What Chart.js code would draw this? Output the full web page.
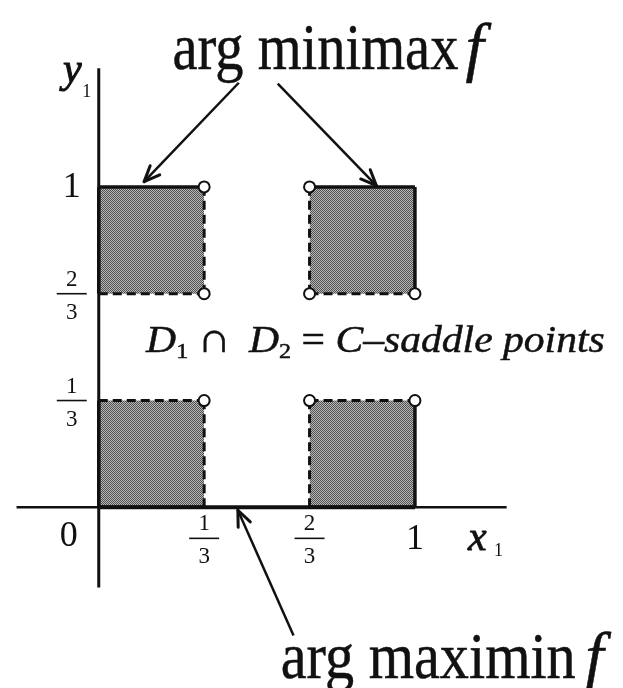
<!DOCTYPE html>
<html>
<head>
<meta charset="utf-8">
<title>arg minimax f / arg maximin f</title>
<script src="https://cdn.jsdelivr.net/npm/chart.js"></script>
<style>
  html, body { margin: 0; padding: 0; background: #fff; }
  #wrap { width: 623px; height: 688px; }
</style>
</head>
<body>
<div id="wrap"><canvas id="saddle" width="623" height="688"></canvas></div>
<script>
// visible window of the (x1, y1) plane
var xRange = [-0.2886, 1.6343];
var yRange = [-0.5403, 1.5598];

// tick marks on both axes
var tickVals = [1/3, 2/3, 1];
var tickText = ['1/3', '2/3', '1'];

// the four squares of D1 ∩ D2
var boxX0 = [0, 2/3, 0, 2/3];
var boxX1 = [1/3, 1, 1/3, 1];
var boxY0 = [2/3, 2/3, 0, 0];
var boxY1 = [1, 1, 1/3, 1/3];
// closed sides per square: top, right, bottom, left
var boxClosed = [[1, 0, 0, 1], [1, 1, 0, 0], [0, 0, 1, 1], [0, 1, 1, 0]];

// excluded corner points
var openX = [1/3, 1/3, 2/3, 2/3, 1, 1/3, 2/3, 1];
var openY = [1, 2/3, 1, 2/3, 2/3, 1/3, 1/3, 1/3];

// axis extents and the maximin segment on y1 = 0
var xAxisX = [-0.26, 1.29];
var yAxisY = [-0.25, 1.37];
var maximinX = [0, 1];

// pointer arrows: tail -> head
var arrowFromX = [0.443, 0.566, 0.616];
var arrowFromY = [1.325, 1.322, -0.400];
var arrowToX = [0.1435, 0.878, 0.440];
var arrowToY = [1.0165, 1.004, -0.009];

var INK = '#111';

function halftone() {
  var c = document.createElement('canvas');
  c.width = 2; c.height = 2;
  var g = c.getContext('2d');
  g.fillStyle = '#b8b8b8'; g.fillRect(0, 0, 2, 2);
  g.fillStyle = '#505050'; g.fillRect(0, 0, 1, 1); g.fillRect(1, 1, 1, 1);
  return g.createPattern(c, 'repeat');
}

function seg(xa, ya, xb, yb) {
  return [{ x: xa, y: ya }, { x: xb, y: yb }];
}

var shade = halftone();
var datasets = [];

// open circles on top of everything
datasets.push({
  data: openX.map(function (x, i) { return { x: x, y: openY[i] }; }),
  showLine: false, pointRadius: 5.5, pointBorderWidth: 2,
  pointBackgroundColor: '#fff', pointBorderColor: INK, order: 0
});

// axes
datasets.push({ data: seg(xAxisX[0], 0, xAxisX[1], 0), borderColor: INK, borderWidth: 2.5, pointRadius: 0, order: 2 });
datasets.push({ data: seg(maximinX[0], 0, maximinX[1], 0), borderColor: INK, borderWidth: 4, pointRadius: 0, order: 2 });
datasets.push({ data: seg(0, yAxisY[0], 0, yAxisY[1]), borderColor: INK, borderWidth: 3, pointRadius: 0, order: 2 });

// squares: shaded fill plus solid/dashed sides
boxX0.forEach(function (x0, i) {
  var x1 = boxX1[i], y0 = boxY0[i], y1 = boxY1[i];
  var sides = [seg(x0, y1, x1, y1), seg(x1, y0, x1, y1), seg(x0, y0, x1, y0), seg(x0, y0, x0, y1)];
  sides.forEach(function (s, k) {
    var closed = boxClosed[i][k];
    datasets.push({
      data: s, borderColor: INK, borderWidth: closed ? 3.5 : 3,
      borderDash: closed ? [] : [9, 5], pointRadius: 0, order: 1
    });
  });
  datasets.push({
    data: seg(x0, y1, x1, y1), borderWidth: 0, pointRadius: 0,
    fill: { value: y0 }, backgroundColor: shade, order: 3
  });
});

// arrow shafts
arrowFromX.forEach(function (x, i) {
  datasets.push({ data: seg(x, arrowFromY[i], arrowToX[i], arrowToY[i]), borderColor: INK, borderWidth: 2.5, pointRadius: 0, order: 1 });
});

// text helper: left aligned, optionally squeezed to a given pixel width,
// with a thin outline so the serif strokes read a little heavier
function put(ctx, str, px, py, font, w, heavy) {
  ctx.save();
  ctx.font = font;
  var m = ctx.measureText(str).width;
  ctx.translate(px, py);
  if (w) ctx.scale(w / m, 1);
  ctx.fillText(str, 0, 0);
  if (heavy) { ctx.lineWidth = heavy; ctx.strokeText(str, 0, 0); }
  ctx.restore();
}

function fraction(ctx, str, cx, barY) {
  var p = str.split('/');
  ctx.save();
  ctx.font = '23px "Liberation Serif"';
  ctx.textAlign = 'center';
  ctx.fillText(p[0], cx, barY - 8);
  ctx.fillText(p[1], cx, barY + 25);
  ctx.lineWidth = 1.6;
  ctx.beginPath();
  ctx.moveTo(cx - 15, barY);
  ctx.lineTo(cx + 15, barY);
  ctx.stroke();
  ctx.restore();
}

var figureText = {
  id: 'figureText',
  afterDatasetsDraw: function (chart) {
    var ctx = chart.ctx, sx = chart.scales.x, sy = chart.scales.y;
    var X = function (v) { return sx.getPixelForValue(v); };
    var Y = function (v) { return sy.getPixelForValue(v); };
    ctx.save();
    ctx.fillStyle = INK;
    ctx.strokeStyle = INK;

    // arrow heads
    ctx.lineWidth = 3;
    ctx.lineCap = 'round';
    arrowToX.forEach(function (x, i) {
      var hx = X(x), hy = Y(arrowToY[i]);
      var a = Math.atan2(hy - Y(arrowFromY[i]), hx - X(arrowFromX[i]));
      [0.4, -0.4].forEach(function (d) {
        ctx.beginPath();
        ctx.moveTo(hx, hy);
        ctx.lineTo(hx - 17 * Math.cos(a + d), hy - 17 * Math.sin(a + d));
        ctx.stroke();
      });
    });
    ctx.lineCap = 'butt';

    // tick labels
    var x0 = X(0), y0 = Y(0);
    ctx.textAlign = 'center';
    ctx.font = '36px "Liberation Serif"';
    ctx.fillText('0', x0 - 30, y0 + 39);
    tickVals.forEach(function (v, i) {
      var t = tickText[i];
      if (t.indexOf('/') > 0) {
        fraction(ctx, t, x0 - 27, Y(v));
        fraction(ctx, t, X(v), y0 + 31);
      } else {
        ctx.font = '36px "Liberation Serif"';
        ctx.textAlign = 'center';
        ctx.fillText(t, x0 - 27, Y(v) + 10);
        ctx.fillText(t, X(v), y0 + 42);
      }
    });

    // axis names
    ctx.textAlign = 'left';
    put(ctx, 'y', X(-0.1127), Y(1.328), 'italic 42px "Liberation Serif"', 0, 1);
    put(ctx, '1', X(-0.052), Y(1.279), '18px "Liberation Serif"');
    put(ctx, 'x', X(1.168), Y(-0.134), 'italic 42px "Liberation Serif"', 0, 0.8);
    put(ctx, '1', X(1.250), Y(-0.153), '18px "Liberation Serif"');

    // set names
    put(ctx, 'arg minimax', X(0.233), Y(1.3675), '65px "Liberation Serif"', 286, 0.5);
    put(ctx, 'f', X(1.160), Y(1.3675), 'italic 66px "Liberation Serif"', 0, 0.5);
    put(ctx, 'arg maximin', X(0.5756), Y(-0.534), '65px "Liberation Serif"', 295, 0.5);
    put(ctx, 'f', X(1.5386), Y(-0.534), 'italic 66px "Liberation Serif"', 0, 0.5);

    // D1 ∩ D2 = C-saddle points, laid out piece by piece then fitted
    var parts = [
      ['D', 'italic 38px "Liberation Serif"', 0],
      ['1', '22px "Liberation Serif"', 6],
      ['\u2009\u2229\u2009\u2009', '42px "Liberation Serif"', 0],
      ['D', 'italic 38px "Liberation Serif"', 0],
      ['2', '22px "Liberation Serif"', 6],
      [' = ', '38px "Liberation Serif"', 0],
      ['C\u2013saddle points', 'italic 38px "Liberation Serif"', 0]
    ];
    var total = 0;
    parts.forEach(function (p) { ctx.font = p[1]; p.push(ctx.measureText(p[0]).width); total += p[3]; });
    var lx = X(0.1497), by = Y(0.4853);
    var k = (X(0.1497 + 1.4506) - lx) / total;
    ctx.save();
    ctx.translate(lx, by);
    ctx.scale(k, 1);
    ctx.lineWidth = 0.5;
    var cur = 0;
    parts.forEach(function (p) {
      ctx.font = p[1];
      ctx.fillText(p[0], cur, p[2]);
      ctx.strokeText(p[0], cur, p[2]);
      cur += p[3];
    });
    ctx.restore();

    ctx.restore();
  }
};

new Chart(document.getElementById('saddle'), {
  type: 'line',
  data: { datasets: datasets },
  options: {
    responsive: false,
    animation: false,
    events: [],
    layout: { padding: 0 },
    scales: {
      x: { type: 'linear', min: xRange[0], max: xRange[1], display: false },
      y: { type: 'linear', min: yRange[0], max: yRange[1], display: false }
    },
    plugins: { legend: { display: false }, tooltip: { enabled: false } }
  },
  plugins: [figureText]
});
</script>
</body>
</html>
